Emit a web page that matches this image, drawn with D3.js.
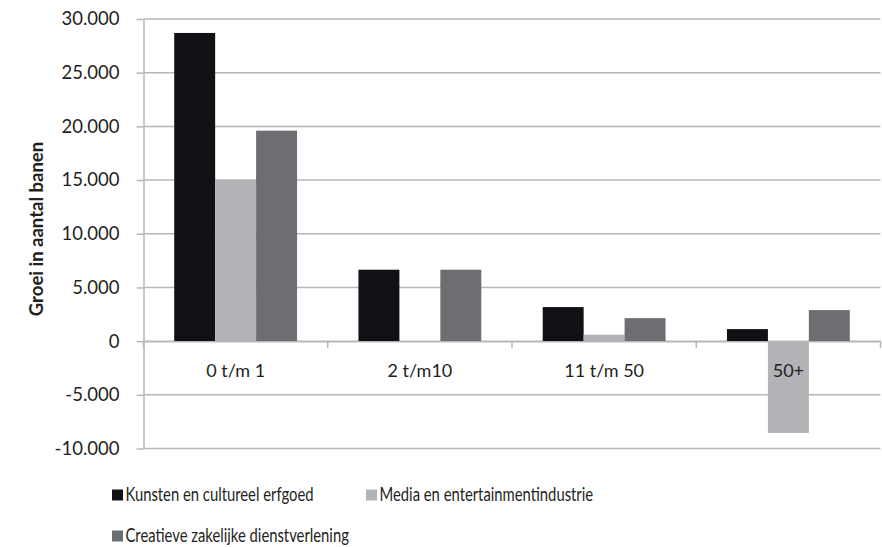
<!DOCTYPE html>
<html>
<head>
<meta charset="utf-8">
<script src="https://cdn.jsdelivr.net/npm/d3@7"></script>
<style>
  body { margin: 0; background: #fff; }
  text { font-family: Lato, "Open Sans", sans-serif; fill: #231f20; }
</style>
</head>
<body>
<div id="chart"></div>
<script>
// data
var categories = ['0 t/m 1', '2 t/m10', '11 t/m 50', '50+'];
var series = ['Kunsten en cultureel erfgoed', 'Media en entertainmentindustrie', 'Creatieve zakelijke dienstverlening'];
var kunsten = [28700, 6650, 3170, 1120];
var media = [15000, 0, 600, -8550];
var creatief = [19600, 6650, 2140, 2890];
var yTicks = [-10000, -5000, 0, 5000, 10000, 15000, 20000, 25000, 30000];
var colors = ['#111014', '#b1b3b6', '#6d6e71'];

var values = [kunsten, media, creatief];

// dimensions
var W = 882, H = 547;
var margin = {top: 19, right: 1.5, bottom: 98.5, left: 143.5},
    width = W - margin.left - margin.right,
    height = H - margin.top - margin.bottom;

var svg = d3.select('#chart').append('svg')
    .attr('width', W)
    .attr('height', H);

var g = svg.append('g')
    .attr('transform', 'translate(' + margin.left + ',' + margin.top + ')');

// scales
var x0 = d3.scaleBand().domain(categories).range([0, width]).padding(0);
var x1 = d3.scaleBand().domain(d3.range(series.length))
    .range([0, x0.bandwidth()]).paddingInner(0).paddingOuter(0.75);
var y = d3.scaleLinear().domain([-10000, 30000]).range([height, 0]);

// dutch number format with plain hyphen
var fmt = function(d) {
  if (d === 0) return '0';
  return (d < 0 ? '-' : '') + d3.format(',')(Math.abs(d)).replace(/,/g, '.');
};

// gridlines
g.selectAll('.grid')
    .data(yTicks)
    .enter().append('line')
    .attr('x1', 0).attr('x2', width)
    .attr('y1', function(d) { return y(d); })
    .attr('y2', function(d) { return y(d); })
    .attr('stroke', '#b7b7b7')
    .attr('stroke-width', 1.5);

// bars
var groups = g.selectAll('.group')
    .data(categories)
    .enter().append('g')
    .attr('transform', function(d) { return 'translate(' + x0(d) + ',0)'; });

groups.selectAll('rect')
    .data(function(d, i) { return values.map(function(v, s) { return {s: s, v: v[i]}; }); })
    .enter().append('rect')
    .attr('x', function(d) { return x1(d.s); })
    .attr('width', x1.bandwidth())
    .attr('y', function(d) { return y(Math.max(0, d.v)); })
    .attr('height', function(d) { return Math.abs(y(d.v) - y(0)); })
    .attr('fill', function(d) { return colors[d.s]; });

// y axis
var yAxis = g.append('g')
    .call(d3.axisLeft(y).tickValues(yTicks).tickFormat(fmt).tickSizeInner(7).tickSizeOuter(0).tickPadding(17));
yAxis.select('.domain').attr('stroke', '#b7b7b7').attr('stroke-width', 1.5);
yAxis.selectAll('.tick line').attr('stroke', '#b7b7b7').attr('stroke-width', 1.5);
yAxis.selectAll('.tick text')
    .attr('font-size', '18.5px')
    .style('font-family', 'Lato, sans-serif')
    .attr('fill', '#231f20');

// x axis at zero
var xAxis = g.append('g')
    .attr('transform', 'translate(0,' + y(0) + ')')
    .call(d3.axisBottom(x0).tickSize(0).tickPadding(23));
xAxis.select('.domain').attr('stroke', '#b7b7b7').attr('stroke-width', 1.5);
xAxis.selectAll('.tick text')
    .attr('font-size', '18px')
    .style('font-family', 'Lato, sans-serif')
    .attr('fill', '#231f20');

// tick marks between categories
g.selectAll('.xtick')
    .data(categories.concat(['end']))
    .enter().append('line')
    .attr('x1', function(d, i) { return i * x0.step(); })
    .attr('x2', function(d, i) { return i * x0.step(); })
    .attr('y1', y(0))
    .attr('y2', y(0) + 7)
    .attr('stroke', '#b7b7b7')
    .attr('stroke-width', 1.5);

// y title
svg.append('text')
    .attr('transform', 'translate(43,229) rotate(-90)')
    .attr('text-anchor', 'middle')
    .attr('font-size', '18.5px')
    .attr('font-weight', 'bold')
    .text('Groei in aantal banen');

// legend
var legendPos = [[112, 495], [366, 495], [112, 536]];
var legend = svg.selectAll('.legend')
    .data(series)
    .enter().append('g')
    .attr('transform', function(d, i) { return 'translate(' + legendPos[i][0] + ',' + legendPos[i][1] + ')'; });

legend.append('rect')
    .attr('x', 0).attr('y', -5.5)
    .attr('width', 11).attr('height', 11)
    .attr('fill', function(d, i) { return colors[i]; });

legend.append('text')
    .attr('transform', 'translate(13.5,0) scale(0.78,1)')
    .attr('dy', '0.33em')
    .attr('font-size', '19px')
    .text(function(d) { return d; });
</script>
</body>
</html>
